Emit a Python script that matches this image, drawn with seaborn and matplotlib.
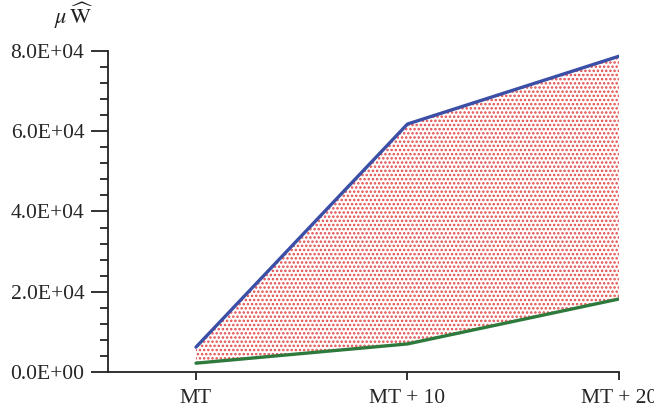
import matplotlib
matplotlib.use("Agg")
import matplotlib.pyplot as plt
import seaborn as sns
import pandas as pd
import numpy as np
from matplotlib.ticker import MultipleLocator, FuncFormatter

categories = ["MT", "MT + 10", "MT + 20"]
upper = [6200, 61800, 78700]
lower = [2200, 7000, 18200]

sns.set_style("white")
plt.rcParams['font.family'] = ['Liberation Serif', 'DejaVu Serif']
plt.rcParams['mathtext.fontset'] = 'stix'
plt.rcParams['hatch.linewidth'] = 1.2

df = pd.DataFrame({"pos": np.arange(len(categories)), "upper": upper, "lower": lower})

fig = plt.figure(figsize=(6.54, 4.11), dpi=100)
ax = fig.add_axes([108/654, 1 - 372/411, (619-108)/654, (372-51)/411])

ax.fill_between(df["pos"], df["lower"], df["upper"], facecolor="white",
                edgecolor="#e04a4a", hatch="....", linewidth=0)
sns.lineplot(data=df, x="pos", y="upper", ax=ax, color="#3b4fa6", linewidth=2.4)
sns.lineplot(data=df, x="pos", y="lower", ax=ax, color="#2e7a3c", linewidth=2.4)

ax.set_xlim(-0.416, 2.0)
ax.set_ylim(0, 80000)
ax.set_xticks(df["pos"])
ax.set_xticklabels(categories)
ax.yaxis.set_major_locator(MultipleLocator(20000))
ax.yaxis.set_minor_locator(MultipleLocator(4000))
ax.yaxis.set_major_formatter(FuncFormatter(lambda v, p: f"{v:.1E}"))
ax.set_xlabel("")
ax.set_ylabel("")

for s in ["top", "right"]:
    ax.spines[s].set_visible(False)
for s in ["left", "bottom"]:
    ax.spines[s].set_color("#222222")
    ax.spines[s].set_linewidth(1.3)

ax.tick_params(axis="y", which="major", direction="out", length=12, width=1.3,
               color="#222222", labelsize=15.5, pad=5, left=True)
ax.tick_params(axis="y", which="minor", direction="out", length=5.5, width=1.3,
               color="#222222", left=True)
ax.tick_params(axis="x", which="major", direction="out", length=6, width=1.3,
               color="#222222", labelsize=15.5, pad=6, bottom=True)

fig.text(54/654, 1 - 16/411, r"$\mu\,\widehat{\mathrm{W}}$", fontsize=16,
         ha="left", va="center", color="#222222")

fig.savefig("out.png", dpi=100)
